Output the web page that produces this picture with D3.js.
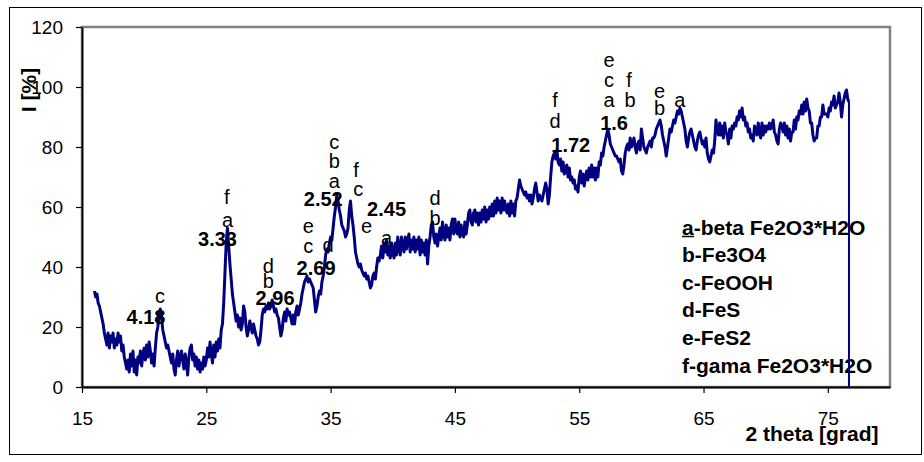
<!DOCTYPE html>
<html>
<head>
<meta charset="utf-8">
<script src="https://cdn.jsdelivr.net/npm/d3@7"></script>
<style>
  html, body { margin: 0; padding: 0; background: #fff; }
  svg text { font-family: "Liberation Sans", Arial, sans-serif; }
</style>
</head>
<body>
<svg id="chart" width="924" height="462"></svg>
<script>
// ---- data -----------------------------------------------------------
const thetaStart = 16.0;      // first sample (2 theta, grad)
const thetaStep = 0.1;        // sampling step
const thetaEnd = 76.7;        // last sample, where trace drops to zero
const intensity = [
  32,30,31,28,27,25,23,21,18,16,
  14,18,13,17,15,18,13,16,14,18,
  15,17,12,14,10,8,6,9,5,11,
  7,12,5,9,4,10,8,12,7,11,
  13,9,14,10,15,12,8,11,7,13,
  18,20,24,26,23,19,17,15,13,14,
  12,10,8,11,6,4,9,12,7,10,
  12,9,6,11,8,4,10,13,14,9,
  11,7,10,6,9,5,8,6,10,7,
  9,13,10,15,11,8,14,10,15,12,
  16,13,19,21,28,38,48,53,47,41,
  36,31,28,25,22,24,20,23,19,21,
  27,25,20,17,19,22,20,18,21,19,
  17,16,14,15,19,24,26,25,27,26,
  28,26,27,29,27,25,26,24,23,20,
  17,19,23,25,22,26,24,25,23,21,
  24,21,25,27,24,26,28,31,33,35,
  36,37,35,36,35,34,33,29,25,27,
  30,32,31,35,37,40,44,46,45,48,
  50,49,53,57,60,64,62,59,57,54,
  53,52,50,51,53,59,62,57,54,50,
  45,43,41,40,41,39,38,37,38,36,
  37,35,33,34,37,38,36,40,43,42,
  44,47,43,48,45,49,44,47,43,48,
  45,43,48,44,50,46,44,50,47,45,
  50,46,49,51,45,49,46,50,45,49,
  46,50,44,49,45,48,44,49,41,47,
  50,54,55,50,48,51,47,50,53,49,
  55,51,49,54,50,53,49,54,56,51,
  56,52,51,55,50,54,51,50,55,51,
  54,58,59,55,54,58,59,55,58,54,
  58,55,59,56,60,55,59,56,60,57,
  61,57,62,58,63,59,62,58,63,59,
  62,59,58,61,57,62,58,61,57,62,
  63,66,69,67,66,65,64,65,63,64,
  62,64,61,63,66,68,65,62,64,63,
  62,64,66,68,66,61,64,70,75,77,
  78,76,79,75,74,76,72,75,71,72,
  74,70,73,69,70,68,69,66,67,65,
  70,72,68,71,67,70,72,69,73,70,
  74,70,73,69,73,70,75,74,78,77,
  80,82,84,86,84,81,80,79,78,77,
  77,76,75,76,72,71,74,78,80,81,
  79,83,80,81,83,80,78,81,82,79,
  86,83,80,79,78,80,81,82,80,83,
  83,84,86,87,88,89,87,84,82,80,
  77,80,83,86,85,87,89,88,90,92,
  91,93,92,90,88,86,82,80,83,85,
  86,84,82,80,79,82,84,85,83,81,
  82,80,83,78,76,75,77,79,78,82,
  89,85,84,88,84,87,83,88,85,84,
  81,86,83,87,86,88,87,90,89,92,
  90,93,89,90,87,88,85,86,83,84,
  82,87,86,84,88,85,83,88,84,87,
  85,87,86,88,86,87,89,85,84,82,
  81,86,88,87,85,88,84,87,83,86,
  82,85,85,89,86,90,89,92,91,94,
  91,95,92,96,93,92,88,88,84,82,
  83,83,87,87,90,90,94,91,91,91,
  90,93,92,95,94,97,93,94,95,98,
  95,90,94,96,98,99,96,95
];

const xTicks = [15, 25, 35, 45, 55, 65, 75];
const yTicks = [0, 20, 40, 60, 80, 100, 120];

// d-spacing labels (bold)
const dLabels = ["4.18", "3.33", "2.96", "2.69", "2.52", "2.45", "1.72", "1.6"];
const dTheta  = [20.15, 25.9, 30.53, 33.83, 34.41, 39.5, 54.32, 57.8];
const dInt    = [21, 47, 27.3, 37.3, 60.3, 57, 78.4, 85.7];

// phase letters
const phaseText  = ["c", "a","f", "b","d", "c","e", "d", "a","b","c", "c","f", "e", "a", "b","d", "d","f", "a","c","e", "b","f", "b","e", "a"];
const phaseTheta = [21.27, 26.7,26.65, 29.99,29.99, 33.2,33.2, 34.8, 35.29,35.29,35.29, 37.23,37.04, 37.9, 39.5, 43.4,43.4, 53.05,53.05, 57.4,57.4,57.4, 59.09,59.0, 61.46,61.46, 63.1];
const phaseInt   = [28, 53.4,61, 32.9,37.9, 44.6,51.2, 45.1, 66.2,72.9,79.2, 63.7,70.1, 51.2, 47.3, 54,60.7, 86.2,93.4, 93.4,99.9,106.8, 93.2,100.1, 90.7,96.2, 93.4];

const legendItems = ["a-beta Fe2O3*H2O", "b-Fe3O4", "c-FeOOH", "d-FeS", "e-FeS2", "f-gama Fe2O3*H2O"];

// ---- drawing --------------------------------------------------------
const svg = d3.select("#chart");
const x = d3.scaleLinear().domain([15, 80]).range([82, 890]);
const y = d3.scaleLinear().domain([0, 120]).range([387, 27]);

// outer frame
svg.append("rect").attr("x", 9.5).attr("y", 7.5).attr("width", 912).attr("height", 447)
  .attr("fill", "#fff").attr("stroke", "#000").attr("stroke-width", 1);

// plot area border
svg.append("rect").attr("x", 82).attr("y", 27).attr("width", 808).attr("height", 360)
  .attr("fill", "#fff").attr("stroke", "#808080").attr("stroke-width", 2.5);

// axes
const yAxis = svg.append("g").attr("transform", "translate(82,0)")
  .call(d3.axisLeft(y).tickValues(yTicks).tickSize(6).tickPadding(13).tickSizeOuter(0));
const xAxis = svg.append("g").attr("transform", "translate(0,387)")
  .call(d3.axisBottom(x).tickValues(xTicks).tickSize(6).tickPadding(18.5).tickSizeOuter(0));
[yAxis, xAxis].forEach(g => {
  g.select(".domain").attr("stroke", "#000").attr("stroke-width", 1.8);
  g.selectAll(".tick line").attr("stroke", "#000").attr("stroke-width", 1.2);
  g.selectAll(".tick text").attr("fill", "#000").style("font-size", "19px")
    .style("font-family", "'Liberation Sans', Arial, sans-serif");
});

// axis titles
svg.append("text").attr("transform", "translate(36,90) rotate(-90)")
  .attr("text-anchor", "middle").style("font-size", "21px").style("font-weight", "bold")
  .text("I [%]");
svg.append("text").attr("x", 812).attr("y", 441).attr("text-anchor", "middle")
  .style("font-size", "21px").style("font-weight", "bold").text("2 theta [grad]");

// legend
const legend = svg.append("g");
const legendBase = [234.5, 262, 289.5, 317, 345, 372.5];
legendItems.forEach((t, i) => {
  legend.append("text").attr("x", 682).attr("y", legendBase[i])
    .style("font-size", "21px").style("font-weight", "bold").text(t);
});
legend.append("line").attr("x1", 682).attr("x2", 694).attr("y1", 236.5).attr("y2", 236.5)
  .attr("stroke", "#000").attr("stroke-width", 1.5);

// trace
const pts = intensity.map((v, i) => [thetaStart + i * thetaStep, v]);
const line = d3.line().x(d => x(d[0])).y(d => y(d[1]));
svg.append("path").datum(pts).attr("d", line)
  .attr("fill", "none").attr("stroke", "#000080").attr("stroke-width", 3)
  .attr("stroke-linejoin", "round");
svg.append("line")
  .attr("x1", x(thetaEnd)).attr("x2", x(thetaEnd))
  .attr("y1", y(intensity[intensity.length - 1])).attr("y2", y(0))
  .attr("stroke", "#000080").attr("stroke-width", 2);

// annotations
phaseText.forEach((t, i) => {
  svg.append("text").attr("x", x(phaseTheta[i])).attr("y", y(phaseInt[i]))
    .attr("text-anchor", "middle").style("font-size", "20px").text(t);
});
dLabels.forEach((t, i) => {
  svg.append("text").attr("x", x(dTheta[i])).attr("y", y(dInt[i]))
    .attr("text-anchor", "middle").style("font-size", "20px").style("font-weight", "bold").text(t);
});
</script>
</body>
</html>
